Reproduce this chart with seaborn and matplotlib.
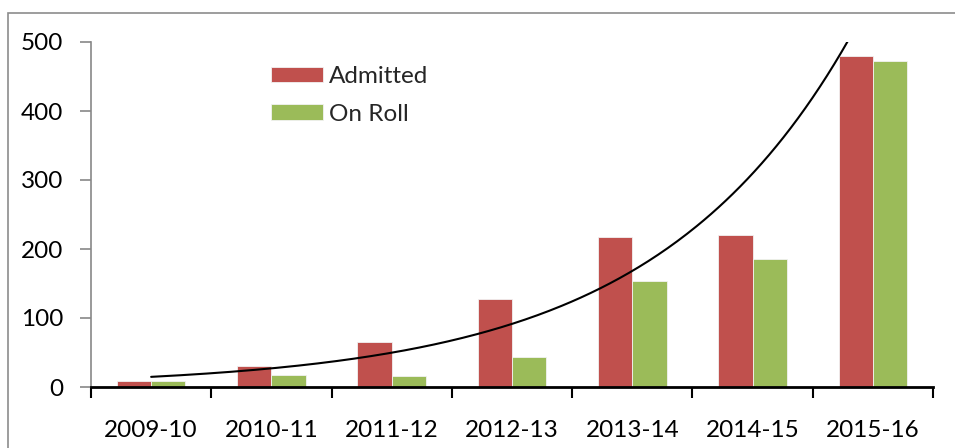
import numpy as np
import pandas as pd
import matplotlib
matplotlib.use("Agg")
import matplotlib.pyplot as plt
import seaborn as sns
from matplotlib.patches import Rectangle
from matplotlib.ticker import FixedLocator, NullFormatter

years = ["2009-10", "2010-11", "2011-12", "2012-13", "2013-14", "2014-15", "2015-16"]
admitted = [9, 31, 65, 128, 218, 221, 479]
on_roll = [8, 18, 16, 43, 153, 186, 473]
series = ["Admitted", "On Roll"]
colors = ["#C0504D", "#9BBB59"]
yticks = [0, 100, 200, 300, 400, 500]

df = pd.DataFrame({
    "Year": years * 2,
    "Value": admitted + on_roll,
    "Series": [series[0]] * len(years) + [series[1]] * len(years),
})

sns.set_theme(style="white")
plt.rcParams["font.family"] = ["Lato", "DejaVu Sans"]

fig = plt.figure(figsize=(9.55, 4.48), dpi=100)
ax = fig.add_axes([91/955, 1-387/448, (933-91)/955, (387-42)/448])

sns.barplot(data=df, x="Year", y="Value", hue="Series", order=years,
            hue_order=series, palette=colors, width=0.57, gap=0,
            edgecolor="#f2f2f2", linewidth=0.6, saturation=1, ax=ax)

# exponential trendline fitted to Admitted
xi = np.arange(1, len(years) + 1)
b, a = np.polyfit(xi, np.log(admitted), 1)
xs = np.linspace(1, len(years), 300)
ax.plot(xs - 1, np.exp(a + b * xs), color="black", lw=1.5, zorder=5, clip_on=True)

ax.set_xlim(-0.5, len(years) - 0.5)
ax.set_ylim(0, 500)
ax.set_yticks(yticks)
ax.set_xlabel("")
ax.set_ylabel("")

for s in ["top", "right"]:
    ax.spines[s].set_visible(False)
ax.spines["left"].set_color("#878787")
ax.spines["left"].set_linewidth(1.2)
ax.spines["bottom"].set_color("black")
ax.spines["bottom"].set_linewidth(2)
ax.spines["bottom"].set_zorder(6)

ax.tick_params(axis="y", which="major", left=True, length=8, width=1.2,
               color="#878787", labelsize=17.5, pad=12, labelcolor="black")
ax.xaxis.set_minor_locator(FixedLocator(np.arange(-0.5, len(years), 1.0)))
ax.xaxis.set_minor_formatter(NullFormatter())
ax.tick_params(axis="x", which="major", bottom=False, length=0, labelsize=17.5,
               pad=24, labelcolor="black")
ax.tick_params(axis="x", which="minor", bottom=True, length=8, width=1.5,
               color="black")

leg = ax.legend(loc="upper left", bbox_to_anchor=(271/955, 1-66/448),
                bbox_transform=fig.transFigure, frameon=False, fontsize=17.5,
                handlelength=2.15, handleheight=0.62, handletextpad=0.25,
                labelspacing=0.68, borderpad=0, borderaxespad=0)

fig.patches.append(Rectangle((8/955, -0.1), 1.1, 1-13/448+0.1,
                             transform=fig.transFigure, fill=False,
                             edgecolor="#8c8c8c", lw=1.2))

fig.savefig("out.png", dpi=100)
